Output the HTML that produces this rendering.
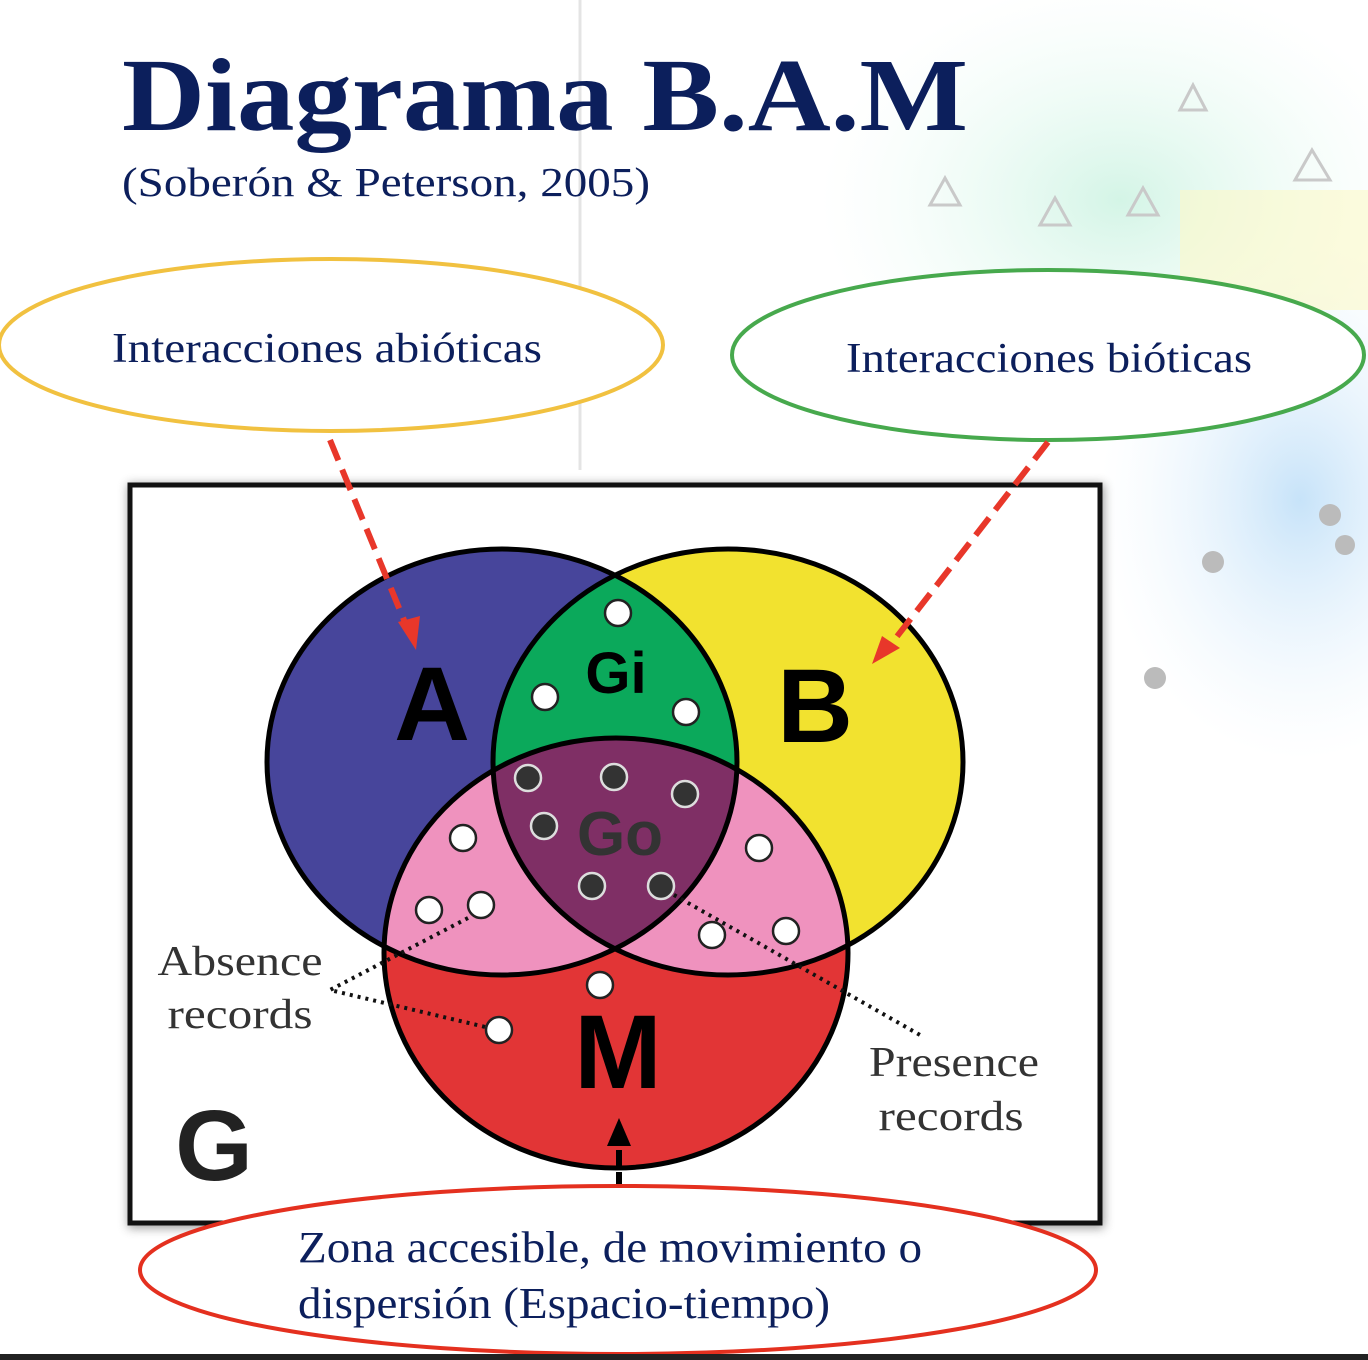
<!DOCTYPE html>
<html><head><meta charset="utf-8"><style>
html,body{margin:0;padding:0;background:#fff;}
svg{display:block;}
</style></head><body>
<svg width="1368" height="1360" viewBox="0 0 1368 1360" xmlns="http://www.w3.org/2000/svg">
<defs>
<radialGradient id="bg1" cx="0.5" cy="0.5" r="0.5">
<stop offset="0" stop-color="#c9f2e0" stop-opacity="0.8"/>
<stop offset="1" stop-color="#e8fbf3" stop-opacity="0"/>
</radialGradient>
<radialGradient id="bg2" cx="0.5" cy="0.5" r="0.5">
<stop offset="0" stop-color="#b9dcf7" stop-opacity="0.8"/>
<stop offset="1" stop-color="#e6f3fd" stop-opacity="0"/>
</radialGradient>
<clipPath id="cA"><ellipse cx="502" cy="762" rx="235" ry="213"/></clipPath>
<clipPath id="cB"><ellipse cx="728" cy="762" rx="235" ry="213"/></clipPath>
<clipPath id="cM"><ellipse cx="616" cy="953" rx="232" ry="215"/></clipPath>
<filter id="sh" x="-5%" y="-5%" width="110%" height="110%"><feGaussianBlur stdDeviation="5"/></filter>
</defs>
<rect width="1368" height="1360" fill="#fff"/>
<ellipse cx="1120" cy="200" rx="300" ry="220" fill="url(#bg1)"/>
<ellipse cx="1300" cy="500" rx="200" ry="260" fill="url(#bg2)"/>
<rect x="1180" y="190" width="188" height="120" fill="#fbf8c8" opacity="0.6"/>
<line x1="580" y1="0" x2="580" y2="470" stroke="#e4e4e4" stroke-width="3"/>
<g fill="none" stroke="#c9c9c9" stroke-width="3">
<path d="M930 205 L945 178 L960 205 Z"/><path d="M1040 225 L1055 198 L1070 225 Z"/>
<path d="M1128 215 L1143 188 L1158 215 Z"/><path d="M1295 180 L1312 150 L1330 180 Z"/>
<path d="M1180 110 L1193 85 L1206 110 Z"/>
</g>
<g fill="#bbb"><circle cx="1213" cy="562" r="11"/><circle cx="1155" cy="678" r="11"/><circle cx="1330" cy="515" r="11"/><circle cx="1345" cy="545" r="10"/></g>

<text x="122" y="130" font-family="Liberation Serif, serif" font-weight="bold" font-size="104" fill="#0c1f5c" textLength="846" lengthAdjust="spacingAndGlyphs">Diagrama B.A.M</text>
<text x="122" y="196" font-family="Liberation Serif, serif" font-size="41" fill="#0c1f5c" textLength="528" lengthAdjust="spacingAndGlyphs">(Soberón &amp; Peterson, 2005)</text>

<!-- box -->
<rect x="128" y="484" width="976" height="744" fill="#555" filter="url(#sh)" opacity="0.6"/>
<rect x="130" y="485" width="970" height="738" fill="#fff" stroke="#111" stroke-width="5"/>

<!-- venn -->
<ellipse cx="502" cy="762" rx="235" ry="213" fill="#47459b"/>
<ellipse cx="728" cy="762" rx="235" ry="213" fill="#f2e22f"/>
<ellipse cx="616" cy="953" rx="232" ry="215" fill="#e23536"/>
<g clip-path="url(#cA)"><ellipse cx="728" cy="762" rx="235" ry="213" fill="#0ba95b"/><ellipse cx="616" cy="953" rx="232" ry="215" fill="#ef92be"/></g>
<g clip-path="url(#cB)"><ellipse cx="616" cy="953" rx="232" ry="215" fill="#ef92be"/></g>
<g clip-path="url(#cA)"><g clip-path="url(#cB)"><ellipse cx="616" cy="953" rx="232" ry="215" fill="#7f2f65"/></g></g>
<g fill="none" stroke="#000" stroke-width="5">
<ellipse cx="502" cy="762" rx="235" ry="213"/>
<ellipse cx="728" cy="762" rx="235" ry="213"/>
<ellipse cx="616" cy="953" rx="232" ry="215"/>
</g>
<g font-family="Liberation Sans, sans-serif" font-weight="bold" fill="#000">
<text x="432" y="740" font-size="105" text-anchor="middle">A</text>
<text x="815" y="742" font-size="105" text-anchor="middle">B</text>
<text x="618" y="1088" font-size="105" text-anchor="middle">M</text>
<text x="616" y="693" font-size="58" text-anchor="middle">Gi</text>
<text x="620" y="855" font-size="62" text-anchor="middle" fill="#333">Go</text>
<text x="214" y="1180" font-size="100" text-anchor="middle" fill="#222">G</text>
</g>
<!-- dotted lines -->
<g stroke="#111" stroke-width="4" stroke-dasharray="3 5" fill="none">
<path d="M468 918 L330 990 L498 1030"/>
<path d="M660 887 L920 1035"/>
</g>
<g stroke="#222" stroke-width="2.5">
<g fill="#fff">
<circle cx="618" cy="613" r="13"/><circle cx="545" cy="697" r="13"/><circle cx="686" cy="712" r="13"/>
<circle cx="463" cy="838" r="13"/><circle cx="429" cy="910" r="13"/><circle cx="481" cy="905" r="13"/>
<circle cx="759" cy="848" r="13"/><circle cx="712" cy="935" r="13"/><circle cx="786" cy="931" r="13"/>
<circle cx="600" cy="985" r="13"/><circle cx="499" cy="1030" r="13"/>
</g>
<g fill="#333" stroke="#ddd">
<circle cx="528" cy="778" r="13"/><circle cx="614" cy="777" r="13"/><circle cx="685" cy="794" r="13"/>
<circle cx="544" cy="826" r="13"/><circle cx="592" cy="886" r="13"/><circle cx="661" cy="886" r="13"/>
</g>
</g>
<g font-family="Liberation Serif, serif" font-size="42" fill="#333" text-anchor="middle">
<text x="240" y="975" textLength="165" lengthAdjust="spacingAndGlyphs">Absence</text>
<text x="240" y="1028" textLength="145" lengthAdjust="spacingAndGlyphs">records</text>
<text x="954" y="1076" textLength="170" lengthAdjust="spacingAndGlyphs">Presence</text>
<text x="951" y="1130" textLength="145" lengthAdjust="spacingAndGlyphs">records</text>
</g>

<!-- bubbles -->
<ellipse cx="331" cy="345" rx="332" ry="86" fill="#fff" stroke="#f1c140" stroke-width="4"/>
<text x="112" y="362" font-family="Liberation Serif, serif" font-size="42" fill="#0c1f5c" textLength="430" lengthAdjust="spacingAndGlyphs">Interacciones abióticas</text>
<ellipse cx="1048" cy="355" rx="316" ry="85" fill="#fff" stroke="#47a94d" stroke-width="4"/>
<text x="846" y="372" font-family="Liberation Serif, serif" font-size="42" fill="#0c1f5c" textLength="406" lengthAdjust="spacingAndGlyphs">Interacciones bióticas</text>

<!-- red arrows -->
<g stroke="#e8372a" stroke-width="6" stroke-dasharray="22 10" fill="none">
<line x1="330" y1="440" x2="406" y2="625"/>
<line x1="1048" y1="442" x2="888" y2="648"/>
</g>
<path d="M398 622 L416 650 L420 616 Z" fill="#e8372a"/>
<path d="M872 664 L900 648 L882 636 Z" fill="#e8372a"/>
<!-- black arrow -->
<line x1="619" y1="1188" x2="619" y2="1140" stroke="#000" stroke-width="6" stroke-dasharray="16 6"/>
<path d="M607 1146 L619 1118 L631 1146 Z" fill="#000"/>

<ellipse cx="618" cy="1270" rx="478" ry="84" fill="#fff" stroke="#e4301f" stroke-width="4"/>
<g font-family="Liberation Serif, serif" font-size="44" fill="#0c1f5c">
<text x="298" y="1262" textLength="624" lengthAdjust="spacingAndGlyphs">Zona accesible, de movimiento o</text>
<text x="298" y="1318" textLength="532" lengthAdjust="spacingAndGlyphs">dispersión (Espacio-tiempo)</text>
</g>
<rect x="0" y="1354" width="1368" height="6" fill="#222"/>
</svg>
</body></html>
